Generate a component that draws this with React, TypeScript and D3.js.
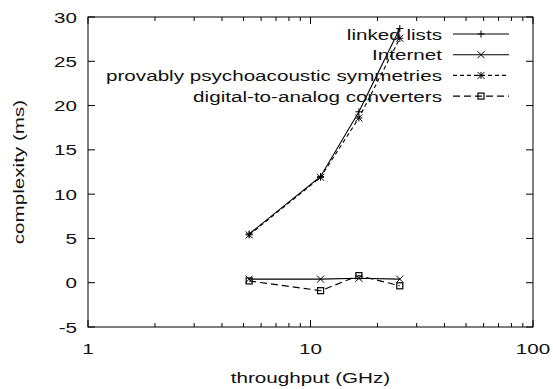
import { useEffect, useRef } from 'react';
import * as d3 from 'd3';

const throughput = [5.3, 11.1, 16.5, 25.2];
const linkedLists = [5.5, 12.0, 19.3, 28.7];
const internet = [0.4, 0.4, 0.5, 0.4];
const psychoacoustic = [5.4, 11.9, 18.6, 27.6];
const converters = [0.2, -0.9, 0.8, -0.35];

const seriesNames = [
  'linked lists',
  'Internet',
  'provably psychoacoustic symmetries',
  'digital-to-analog converters',
];
const seriesValues = [linkedLists, internet, psychoacoustic, converters];
const seriesDash = [null, null, '4,3', '7,4'];
const seriesMarker = ['plus', 'cross', 'star', 'square'];

const yTicks = [-5, 0, 5, 10, 15, 20, 25, 30];
const xTicks = [1, 10, 100];

const width = 553;
const height = 389;

const App = () => {
  const ref = useRef<SVGSVGElement | null>(null);

  useEffect(() => {
    const svg = d3.select(ref.current);
    svg.selectAll('*').remove();

    const margin = { top: 17, right: 20, bottom: 62, left: 88 };
    const innerWidth = width - margin.left - margin.right;
    const innerHeight = height - margin.top - margin.bottom;
    const font = 'Liberation Sans, Arial, sans-serif';
    const stretch = 1.35;

    const x = d3.scaleLog().domain([1, 100]).range([0, innerWidth]);
    const y = d3.scaleLinear().domain([-5, 30]).range([innerHeight, 0]);

    // wide gnuplot-like text
    const label = (parent: any, tx: number, ty: number, anchor: string, txt: string, rot = 0) =>
      parent.append('text')
        .attr('transform', `translate(${tx},${ty}) rotate(${rot}) scale(${stretch},1)`)
        .attr('text-anchor', anchor)
        .attr('font-family', font)
        .attr('font-size', 15.3)
        .attr('fill', '#111')
        .text(txt);

    const g = svg
      .append('g')
      .attr('transform', `translate(${margin.left},${margin.top})`);

    const ink = '#000';
    const major = 7;
    const minor = 4;

    // border
    g.append('rect')
      .attr('width', innerWidth)
      .attr('height', innerHeight)
      .attr('fill', 'none')
      .attr('stroke', ink)
      .attr('stroke-width', 1);

    // y ticks (left + mirrored right)
    yTicks.forEach(t => {
      const yy = y(t);
      g.append('line').attr('x1', 0).attr('x2', major).attr('y1', yy).attr('y2', yy).attr('stroke', ink);
      g.append('line').attr('x1', innerWidth).attr('x2', innerWidth - major).attr('y1', yy).attr('y2', yy).attr('stroke', ink);
      label(g, -11, yy + 5.5, 'end', String(t));
    });

    // x ticks, log with minor ticks
    const minorTicks: number[] = [];
    [1, 10].forEach(dec => {
      for (let k = 2; k <= 9; k++) minorTicks.push(dec * k);
    });
    minorTicks.forEach(t => {
      const xx = x(t);
      g.append('line').attr('x1', xx).attr('x2', xx).attr('y1', innerHeight).attr('y2', innerHeight - minor).attr('stroke', ink);
      g.append('line').attr('x1', xx).attr('x2', xx).attr('y1', 0).attr('y2', minor).attr('stroke', ink);
    });
    xTicks.forEach(t => {
      const xx = x(t);
      g.append('line').attr('x1', xx).attr('x2', xx).attr('y1', innerHeight).attr('y2', innerHeight - major).attr('stroke', ink);
      g.append('line').attr('x1', xx).attr('x2', xx).attr('y1', 0).attr('y2', major).attr('stroke', ink);
      label(g, xx, innerHeight + 27, 'middle', String(t));
    });

    // axis titles
    label(svg, margin.left + x(10), height - 6, 'middle', 'throughput (GHz)');
    label(svg, 24, margin.top + innerHeight / 2, 'middle', 'complexity (ms)', -90);

    const drawMarker = (sel: any, kind: string, cx: number, cy: number) => {
      const s = 3.5;
      const line = (x1: number, y1: number, x2: number, y2: number) =>
        sel.append('line')
          .attr('x1', cx + x1).attr('y1', cy + y1)
          .attr('x2', cx + x2).attr('y2', cy + y2)
          .attr('stroke', ink).attr('stroke-width', 1);
      if (kind === 'plus' || kind === 'star') {
        line(-s, 0, s, 0);
        line(0, -s, 0, s);
      }
      if (kind === 'cross' || kind === 'star') {
        line(-s, -s, s, s);
        line(-s, s, s, -s);
      }
      if (kind === 'square') {
        sel.append('rect')
          .attr('x', cx - 3).attr('y', cy - 3)
          .attr('width', 6).attr('height', 6)
          .attr('fill', 'none').attr('stroke', ink).attr('stroke-width', 1.2);
      }
    };

    const path = d3.line<number>()
      .x((_, i) => x(throughput[i]))
      .y(d => y(d));

    seriesValues.forEach((vals, si) => {
      const sg = g.append('g');
      sg.append('path')
        .datum(vals)
        .attr('fill', 'none')
        .attr('stroke', ink)
        .attr('stroke-width', 1.1)
        .attr('stroke-dasharray', seriesDash[si])
        .attr('d', path);
      vals.forEach((v, i) => drawMarker(sg, seriesMarker[si], x(throughput[i]), y(v)));
    });

    // legend
    const legend = svg.append('g');
    seriesNames.forEach((name, i) => {
      const ly = 34 + i * 20.7;
      label(legend, 442, ly + 5.5, 'end', name);
      legend.append('line')
        .attr('x1', 453).attr('x2', 509)
        .attr('y1', ly).attr('y2', ly)
        .attr('stroke', ink)
        .attr('stroke-width', 1.1)
        .attr('stroke-dasharray', seriesDash[i]);
      drawMarker(legend, seriesMarker[i], 481, ly);
    });
  }, []);

  return (
    <svg
      ref={ref}
      width={width}
      height={height}
      style={{ position: 'absolute', left: 0, top: 0, background: '#fff' }}
    ></svg>
  );
};

export default App;
